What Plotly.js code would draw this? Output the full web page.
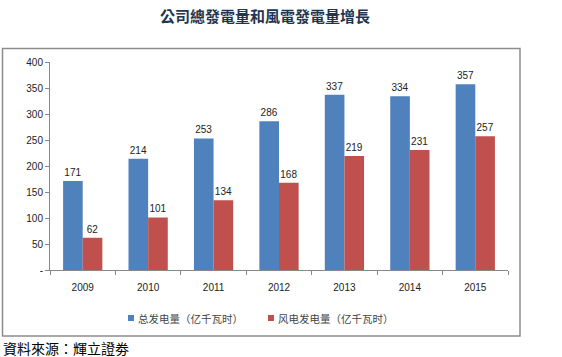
<!DOCTYPE html>
<html>
<head>
<meta charset="utf-8">
<script src="https://cdn.plot.ly/plotly-3.0.1.min.js"></script>
<style>html,body{margin:0;padding:0;background:#fff;}#chart{width:562px;height:357px;}</style>
</head>
<body>
<div id="chart"></div>
<script>
const years = ['2009','2010','2011','2012','2013','2014','2015'];
const totalGen = [171, 214, 253, 286, 337, 334, 357];
const windGen = [62, 101, 134, 168, 219, 231, 257];
const seriesNames = ['总发电量（亿千瓦时）', '风电发电量（亿千瓦时）'];
const seriesColors = ['#4F81BD', '#C0504D'];
const yTickVals = [0, 50, 100, 150, 200, 250, 300, 350, 400];
const yTickText = ['-', '50', '100', '150', '200', '250', '300', '350', '400'];

const fontCJK = '"Noto Sans CJK SC", "Noto Sans", sans-serif';
const labelFont = {family: 'Liberation Sans, Arial, sans-serif', size: 10, color: '#222'};

const traces = [
  {type: 'bar', x: years, y: totalGen, name: seriesNames[0], marker: {color: seriesColors[0]},
   text: totalGen.map(String), textposition: 'outside', textfont: labelFont, cliponaxis: false},
  {type: 'bar', x: years, y: windGen, name: seriesNames[1], marker: {color: seriesColors[1]},
   text: windGen.map(String), textposition: 'outside', textfont: labelFont, cliponaxis: false}
];

const L = 50, R = 508, T = 62, B = 270;
const W = 562, H = 357;
const pw = R - L, ph = B - T;
const px = v => (v - L) / pw;
const py = v => (B - v) / ph;

// custom legend (swatch + label)
const legendItems = [{sx: 128, tx: 136}, {sx: 268, tx: 276}];
const legendY = 318;
const shapes = [
  {type: 'rect', xref: 'paper', yref: 'paper', x0: px(2.5), x1: px(520), y0: py(336), y1: py(48.5),
   line: {color: '#8c8c8c', width: 1.5}, fillcolor: 'rgba(0,0,0,0)', layer: 'below'}
];
const annotations = [
  {text: '資料來源：輝立證劵', xref: 'paper', yref: 'paper', x: px(1), y: py(348), xanchor: 'left', yanchor: 'middle',
   showarrow: false, font: {family: '"Noto Sans CJK TC", sans-serif', size: 14, color: '#000'}}
];
legendItems.forEach((it, i) => {
  shapes.push({type: 'rect', xref: 'paper', yref: 'paper', x0: px(it.sx), x1: px(it.sx + 6),
               y0: py(legendY + 3), y1: py(legendY - 3), line: {width: 0}, fillcolor: seriesColors[i]});
  annotations.push({text: seriesNames[i], xref: 'paper', yref: 'paper', x: px(it.tx), y: py(legendY),
                    xanchor: 'left', yanchor: 'middle', showarrow: false,
                    font: {family: fontCJK, size: 10.5, color: '#444'}});
});

const layout = {
  width: W, height: H,
  margin: {l: L, r: W - R, t: T, b: H - B, pad: 0},
  paper_bgcolor: '#fff', plot_bgcolor: '#fff',
  showlegend: false,
  barmode: 'group', bargap: 0.4, bargroupgap: 0,
  title: {text: '公司總發電量和風電發電量增長', font: {family: '"Noto Sans CJK TC", sans-serif', size: 15, color: '#1F3550', weight: 'bold'},
          x: 265 / W, xanchor: 'center', y: 1 - 17 / H, yanchor: 'middle'},
  xaxis: {type: 'category', showline: true, linecolor: '#888', linewidth: 1, ticks: 'outside', tickson: 'boundaries',
          ticklen: 4, tickcolor: '#888', showgrid: false, tickfont: labelFont, ticklabelstandoff: 8},
  yaxis: {range: [0, 400], tickvals: yTickVals, ticktext: yTickText, showline: true, linecolor: '#888', linewidth: 1,
          ticks: 'outside', ticklen: 4, tickcolor: '#888', showgrid: false, zeroline: false, tickfont: labelFont},
  shapes: shapes,
  annotations: annotations
};

Plotly.newPlot('chart', traces, layout, {staticPlot: true, displayModeBar: false});
</script>
</body>
</html>
